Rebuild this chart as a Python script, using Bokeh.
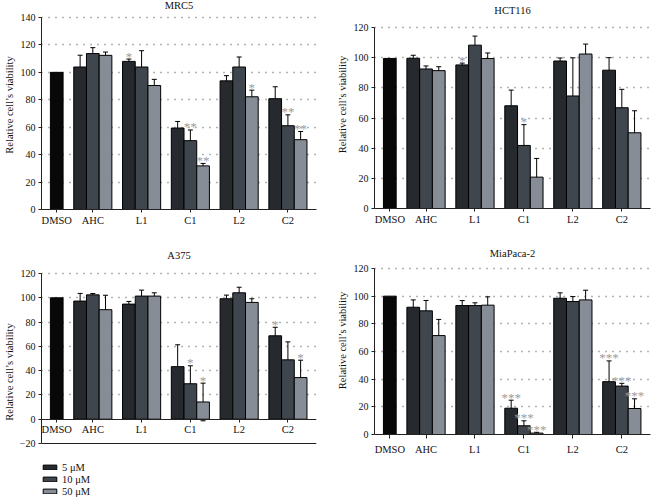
from bokeh.plotting import figure
from bokeh.models import (ColumnDataSource, Whisker, TeeHead, FixedTicker, Range1d,
                          Span, Legend, LegendItem)
from bokeh.core.properties import value
from bokeh.layouts import row, column
from bokeh.embed import file_html
from bokeh.resources import INLINE

# ---------------- data ----------------
groups = ["DMSO", "AHC", "L1", "C1", "L2", "C2"]
doses = ["5 \u03bcM", "10 \u03bcM", "50 \u03bcM"]

# MRC5  (values for AHC, L1, C1, L2, C2)
mrc5_dmso = [100]
mrc5_5 = [103.9, 108.0, 59.4, 93.8, 80.8]
mrc5_5_err = [8.6, 1.7, 4.8, 3.8, 8.7]
mrc5_10 = [113.7, 103.9, 50.2, 103.9, 61.1]
mrc5_10_err = [4.3, 11.9, 7.8, 7.3, 7.9]
mrc5_50 = [112.4, 90.4, 31.8, 82.2, 50.9]
mrc5_50_err = [2.4, 4.5, 1.8, 4.8, 6.0]
mrc5_5_sig = ["", "*", "", "", ""]
mrc5_10_sig = ["", "", "**", "", "**"]
mrc5_50_sig = ["", "", "**", "*", "**"]

# HCT116
hct_dmso = [99.5]
hct_5 = [99.6, 95.2, 68.1, 97.8, 91.7]
hct_5_err = [2.0, 1.2, 10.4, 2.0, 8.3]
hct_10 = [92.5, 108.3, 41.8, 74.6, 66.8]
hct_10_err = [2.0, 6.0, 13.8, 25.3, 12.2]
hct_50 = [91.4, 99.4, 20.8, 102.4, 50.2]
hct_50_err = [2.6, 3.7, 12.4, 6.6, 14.6]
hct_5_sig = ["", "*", "", "", ""]
hct_10_sig = ["", "", "*", "", ""]
hct_50_sig = ["", "", "", "", ""]

# A375
a375_dmso = [100]
a375_5 = [97.3, 94.8, 43.3, 99.2, 68.7]
a375_5_err = [6.3, 2.2, 18.0, 3.0, 7.0]
a375_10 = [102.4, 101.4, 29.2, 104.1, 48.9]
a375_10_err = [1.1, 4.9, 14.8, 4.6, 14.8]
a375_50 = [90.2, 101.4, 14.2, 96.2, 34.3]
a375_50_err = [11.9, 2.7, 15.5, 3.0, 14.3]
a375_5_sig = ["", "", "", "", "*"]
a375_10_sig = ["", "", "*", "", ""]
a375_50_sig = ["", "", "*", "", "*"]

# MiaPaca-2
mia_dmso = [100]
mia_5 = [92.0, 93.2, 19.0, 98.5, 38.2]
mia_5_err = [5.3, 3.6, 5.8, 3.9, 15.0]
mia_10 = [89.4, 93.2, 6.3, 96.1, 35.0]
mia_10_err = [7.5, 2.0, 3.6, 3.6, 2.0]
mia_50 = [71.5, 93.5, 1.0, 97.3, 18.8]
mia_50_err = [11.7, 6.0, 0.6, 7.0, 7.0]
mia_5_sig = ["", "", "***", "", "***"]
mia_10_sig = ["", "", "***", "", "***"]
mia_50_sig = ["", "", "***", "", "***"]

# ---------------- style ----------------
FONT = "Liberation Serif"
DMSO_COLOR = "#080808"
DOSE_COLORS = ["#262a2e", "#40464e", "#878d96"]
AXIS_COLOR = "#222222"
GRID_COLOR = "#666666"
STAR_COLOR = "#9c9c9c"
TEXT_COLOR = "#111111"

# bar layout in bar-width units
PAD_L, GAP, PAD_R = 0.7, 0.84, 0.75
sizes = [1] + [len(doses)] * (len(groups) - 1)
centers = []
_x = PAD_L
for n in sizes:
    centers.append(_x + n / 2.0)
    _x += n + GAP
X_END = _x - GAP + PAD_R


def make_panel(name, dmso, series, errs, sigs, y0, y1, W, H, bl, br, bb,
               axis_px, top_px, title_px, axis_at_zero=False, label_standoff=2,
               tick_out=3, ylabel_standoff=3, extra_px=0):
    # pixel-based layout: the plotting area also holds the panel title above
    # the value axis (top_px) and, optionally, the legend below it (extra_px)
    upp = (y1 - y0) / axis_px          # data units per pixel
    y_hi = y1 + top_px * upp
    y_lo = y0 - extra_px * upp
    p = figure(width=W, height=H, x_range=Range1d(0, X_END), y_range=Range1d(y_lo, y_hi),
               output_backend="svg", toolbar_location=None,
               min_border_left=bl, min_border_right=br, min_border_top=0,
               min_border_bottom=bb)
    p.outline_line_color = None
    p.background_fill_color = "white"
    p.border_fill_color = "white"

    # panel title
    p.text(x=[X_END / 2.0], y=[y1 + title_px * upp], text=[name],
           text_align="center", text_baseline="middle", text_color=TEXT_COLOR,
           text_font=value(FONT), text_font_size="10.5px")

    # grid
    p.xgrid.visible = False
    p.ygrid.ticker = FixedTicker(ticks=[t for t in range(y0, y1 + 1, 20) if t > 0])
    p.ygrid.grid_line_color = GRID_COLOR
    p.ygrid.grid_line_dash = "1 6"
    p.ygrid.grid_line_width = 1.3

    # y axis
    ya = p.yaxis[0]
    ya.bounds = (y0, y1)
    ya.ticker = FixedTicker(ticks=list(range(y0, y1 + 1, 20)))
    ya.major_label_overrides = {t: str(t).replace("-", "\u2212") for t in range(y0, y1 + 1, 20)}
    ya.axis_label = "Relative cell\u2019s viability"
    ya.axis_label_text_font = FONT
    ya.axis_label_text_font_style = "normal"
    ya.axis_label_text_font_size = "10.5px"
    ya.axis_label_text_color = TEXT_COLOR
    ya.axis_label_standoff = ylabel_standoff
    ya.major_label_text_font = FONT
    ya.major_label_text_font_size = "10px"
    ya.major_label_text_color = TEXT_COLOR
    ya.major_label_standoff = 3
    ya.major_tick_in = 0
    ya.major_tick_out = 3
    ya.minor_tick_line_color = None
    ya.axis_line_color = AXIS_COLOR
    ya.major_tick_line_color = AXIS_COLOR

    # x axis
    xa = p.xaxis[0]
    xa.ticker = FixedTicker(ticks=centers)
    xa.major_label_overrides = {c: g for c, g in zip(centers, groups)}
    xa.major_label_text_font = FONT
    xa.major_label_text_font_size = "10.5px"
    xa.major_label_text_color = TEXT_COLOR
    xa.major_label_standoff = label_standoff
    xa.major_tick_in = 0
    xa.major_tick_out = tick_out
    xa.minor_tick_line_color = None
    xa.axis_line_color = AXIS_COLOR
    xa.major_tick_line_color = AXIS_COLOR
    if axis_at_zero:
        xa.fixed_location = 0
        p.add_layout(Span(location=y0, dimension="width", line_color=AXIS_COLOR, line_width=1))

    # DMSO bar
    p.vbar(x=[centers[0]], top=dmso, width=1.0, fill_color=DMSO_COLOR,
           line_color="black", line_width=1)

    # dose bars
    renderers = []
    for j, (vals, er, sg, col) in enumerate(zip(series, errs, sigs, DOSE_COLORS)):
        xs = [centers[g] + (j - 1) for g in range(1, len(groups))]
        src = ColumnDataSource(dict(
            x=xs, top=vals,
            upper=[v + e for v, e in zip(vals, er)],
            lower=[v - e for v, e in zip(vals, er)],
            star=sg))
        r = p.vbar(x="x", top="top", width=1.0, source=src, fill_color=col,
                   line_color="black", line_width=1)
        renderers.append(r)
        p.add_layout(Whisker(source=src, base="x", upper="upper", lower="lower",
                             line_color="black", line_width=1,
                             upper_head=TeeHead(size=5, line_color="black", line_width=1),
                             lower_head=TeeHead(size=5, line_color="black", line_width=1)))
        p.text(x="x", y="upper", text="star", source=src, text_align="center",
               text_baseline="middle", y_offset=-3, text_color=STAR_COLOR,
               text_font=value(FONT), text_font_size="13px")
    return p, renderers


p1, _ = make_panel("MRC5", mrc5_dmso, [mrc5_5, mrc5_10, mrc5_50],
                   [mrc5_5_err, mrc5_10_err, mrc5_50_err],
                   [mrc5_5_sig, mrc5_10_sig, mrc5_50_sig],
                   0, 140, 325, 246, 40, 9, 37,
                   axis_px=192, top_px=17, title_px=12)
p2, _ = make_panel("HCT116", hct_dmso, [hct_5, hct_10, hct_50],
                   [hct_5_err, hct_10_err, hct_50_err],
                   [hct_5_sig, hct_10_sig, hct_50_sig],
                   0, 120, 327, 246, 49, 2, 38,
                   axis_px=181, top_px=27, title_px=17)
p3, r3 = make_panel("A375", a375_dmso, [a375_5, a375_10, a375_50],
                    [a375_5_err, a375_10_err, a375_50_err],
                    [a375_5_sig, a375_10_sig, a375_50_sig],
                    -20, 120, 325, 251, 40, 9, 0,
                    axis_px=170, top_px=27, title_px=18, axis_at_zero=True,
                    ylabel_standoff=2, extra_px=54)
p4, _ = make_panel("MiaPaca-2", mia_dmso, [mia_5, mia_10, mia_50],
                   [mia_5_err, mia_10_err, mia_50_err],
                   [mia_5_sig, mia_10_sig, mia_50_sig],
                   0, 120, 327, 251, 49, 2, 63,
                   axis_px=166, top_px=22, title_px=15, label_standoff=5, tick_out=4)

legend = Legend(items=[LegendItem(label=d, renderers=[r]) for d, r in zip(doses, r3)],
                location=(0, 0), glyph_width=17, glyph_height=6,
                label_height=12, spacing=0, padding=0, margin=0,
                border_line_alpha=0, background_fill_alpha=0,
                label_text_font=FONT, label_text_font_size="10.5px",
                label_text_color=TEXT_COLOR, label_standoff=4)
p3.add_layout(legend)

layout = row(column(p1, p3), column(p2, p4))

open("out.html", "w").write(file_html(layout, INLINE))
